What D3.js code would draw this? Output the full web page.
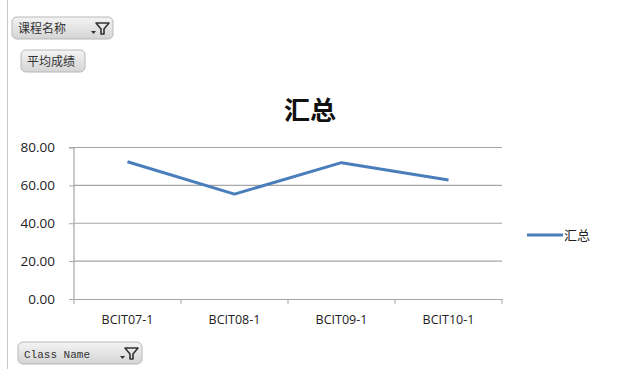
<!DOCTYPE html>
<html><head><meta charset="utf-8">
<script src="https://cdn.jsdelivr.net/npm/d3@7"></script>
<style>body{margin:0;background:#fff}</style>
</head><body>
<svg id="c" width="617" height="369"></svg>
<script>
const categories = ["BCIT07-1","BCIT08-1","BCIT09-1","BCIT10-1"];
const values = [72.5, 55.4, 72.0, 62.8];
const yTicks = [0,20,40,60,80];
const title = "汇总";
const seriesName = "汇总";

const svg = d3.select("#c");
const m = {l:74, r:502, t:147.5, b:299};
const x = d3.scaleBand().domain(categories).range([m.l, m.r]);
const y = d3.scaleLinear().domain([0,80]).range([m.b, m.t]);

// left border line
svg.append("line").attr("x1",7.5).attr("x2",7.5).attr("y1",0).attr("y2",369).attr("stroke","#c8c8c8");

// gridlines
svg.append("g").selectAll("line").data(yTicks.filter(d=>d>0)).join("line")
  .attr("x1",m.l).attr("x2",m.r).attr("y1",d=>y(d)).attr("y2",d=>y(d))
  .attr("stroke","#a6a6a6").attr("stroke-width",1.2);

// y axis
const ya = svg.append("g").attr("transform",`translate(${m.l},0)`)
  .call(d3.axisLeft(y).tickValues(yTicks).tickFormat(d3.format(".2f")).tickSize(5).tickPadding(14));
ya.select(".domain").attr("stroke","#a6a6a6").attr("stroke-width",1.2).attr("d",`M-5,${m.t}H0V${m.b}`);
ya.selectAll(".tick line").attr("stroke","#a6a6a6");
ya.selectAll("text").attr("font-family","Open Sans, sans-serif").attr("font-size",13.5).attr("fill","#222");

// x axis
const xa = svg.append("g").attr("transform",`translate(0,${m.b})`)
  .call(d3.axisBottom(x).tickSize(0).tickPadding(16));
xa.select(".domain").attr("stroke","#a6a6a6").attr("stroke-width",1.2);
xa.selectAll("text").attr("font-family","Open Sans, sans-serif").attr("font-size",12.5).attr("fill","#222");
xa.append("g").selectAll("line").data(categories.concat([null])).join("line")
  .attr("x1",(d,i)=> i<categories.length ? x(d) : m.r).attr("x2",(d,i)=> i<categories.length ? x(d) : m.r)
  .attr("y1",0).attr("y2",5).attr("stroke","#a6a6a6");

// line
const line = d3.line().x((d,i)=>x(categories[i])+x.bandwidth()/2).y(d=>y(d));
svg.append("path").datum(values).attr("d",line).attr("fill","none")
  .attr("stroke","#4a7ebb").attr("stroke-width",3).attr("stroke-linejoin","round");

// title
svg.append("text").attr("x",310).attr("y",120).attr("text-anchor","middle")
  .attr("font-family","Noto Sans CJK SC").attr("font-weight","bold").attr("font-size",26).attr("fill","#111").text(title);

// legend
svg.append("line").attr("x1",527).attr("x2",563).attr("y1",235).attr("y2",235)
  .attr("stroke","#4a7ebb").attr("stroke-width",3);
svg.append("text").attr("x",564).attr("y",240).attr("font-family","Noto Sans CJK SC")
  .attr("font-size",13).attr("fill","#222").text(seriesName);

// buttons
function button(x0,y0,w,h,label,font,fs,filter){
  const g = svg.append("g");
  const grad = "g"+Math.round(x0)+"_"+Math.round(y0);
  const lg = svg.append("defs").append("linearGradient").attr("id",grad).attr("x1",0).attr("x2",0).attr("y1",0).attr("y2",1);
  lg.append("stop").attr("offset",0).attr("stop-color","#f4f4f4");
  lg.append("stop").attr("offset",1).attr("stop-color","#d4d4d4");
  g.append("rect").attr("x",x0).attr("y",y0).attr("width",w).attr("height",h).attr("rx",5)
    .attr("fill",`url(#${grad})`).attr("stroke","#b8b8b8");
  g.append("text").attr("x",x0+6).attr("y",y0+h/2+4.5).attr("font-family",font).attr("font-size",fs)
    .attr("fill","#333").text(label);
  if(filter){
    const fx = x0+w-22, fy=y0+6;
    g.append("path").attr("d",`M${fx+5},${fy}L${fx+18},${fy}L${fx+13},${fy+6}L${fx+13},${fy+11}L${fx+10},${fy+11}L${fx+10},${fy+6}Z`)
      .attr("fill","none").attr("stroke","#333").attr("stroke-width",1.6).attr("stroke-linejoin","round");
    g.append("path").attr("d",`M${fx},${fy+8}L${fx+5},${fy+8}L${fx+2.5},${fy+11}Z`).attr("fill","#333");
  }
}
button(12,17,101,22,"课程名称","Noto Sans CJK SC",12,true);
button(21,50,64,22,"平均成绩","Noto Sans CJK SC",12,false);
button(18,342,124,22,"Class Name","Liberation Mono, monospace",11,true);
</script>
</body></html>
